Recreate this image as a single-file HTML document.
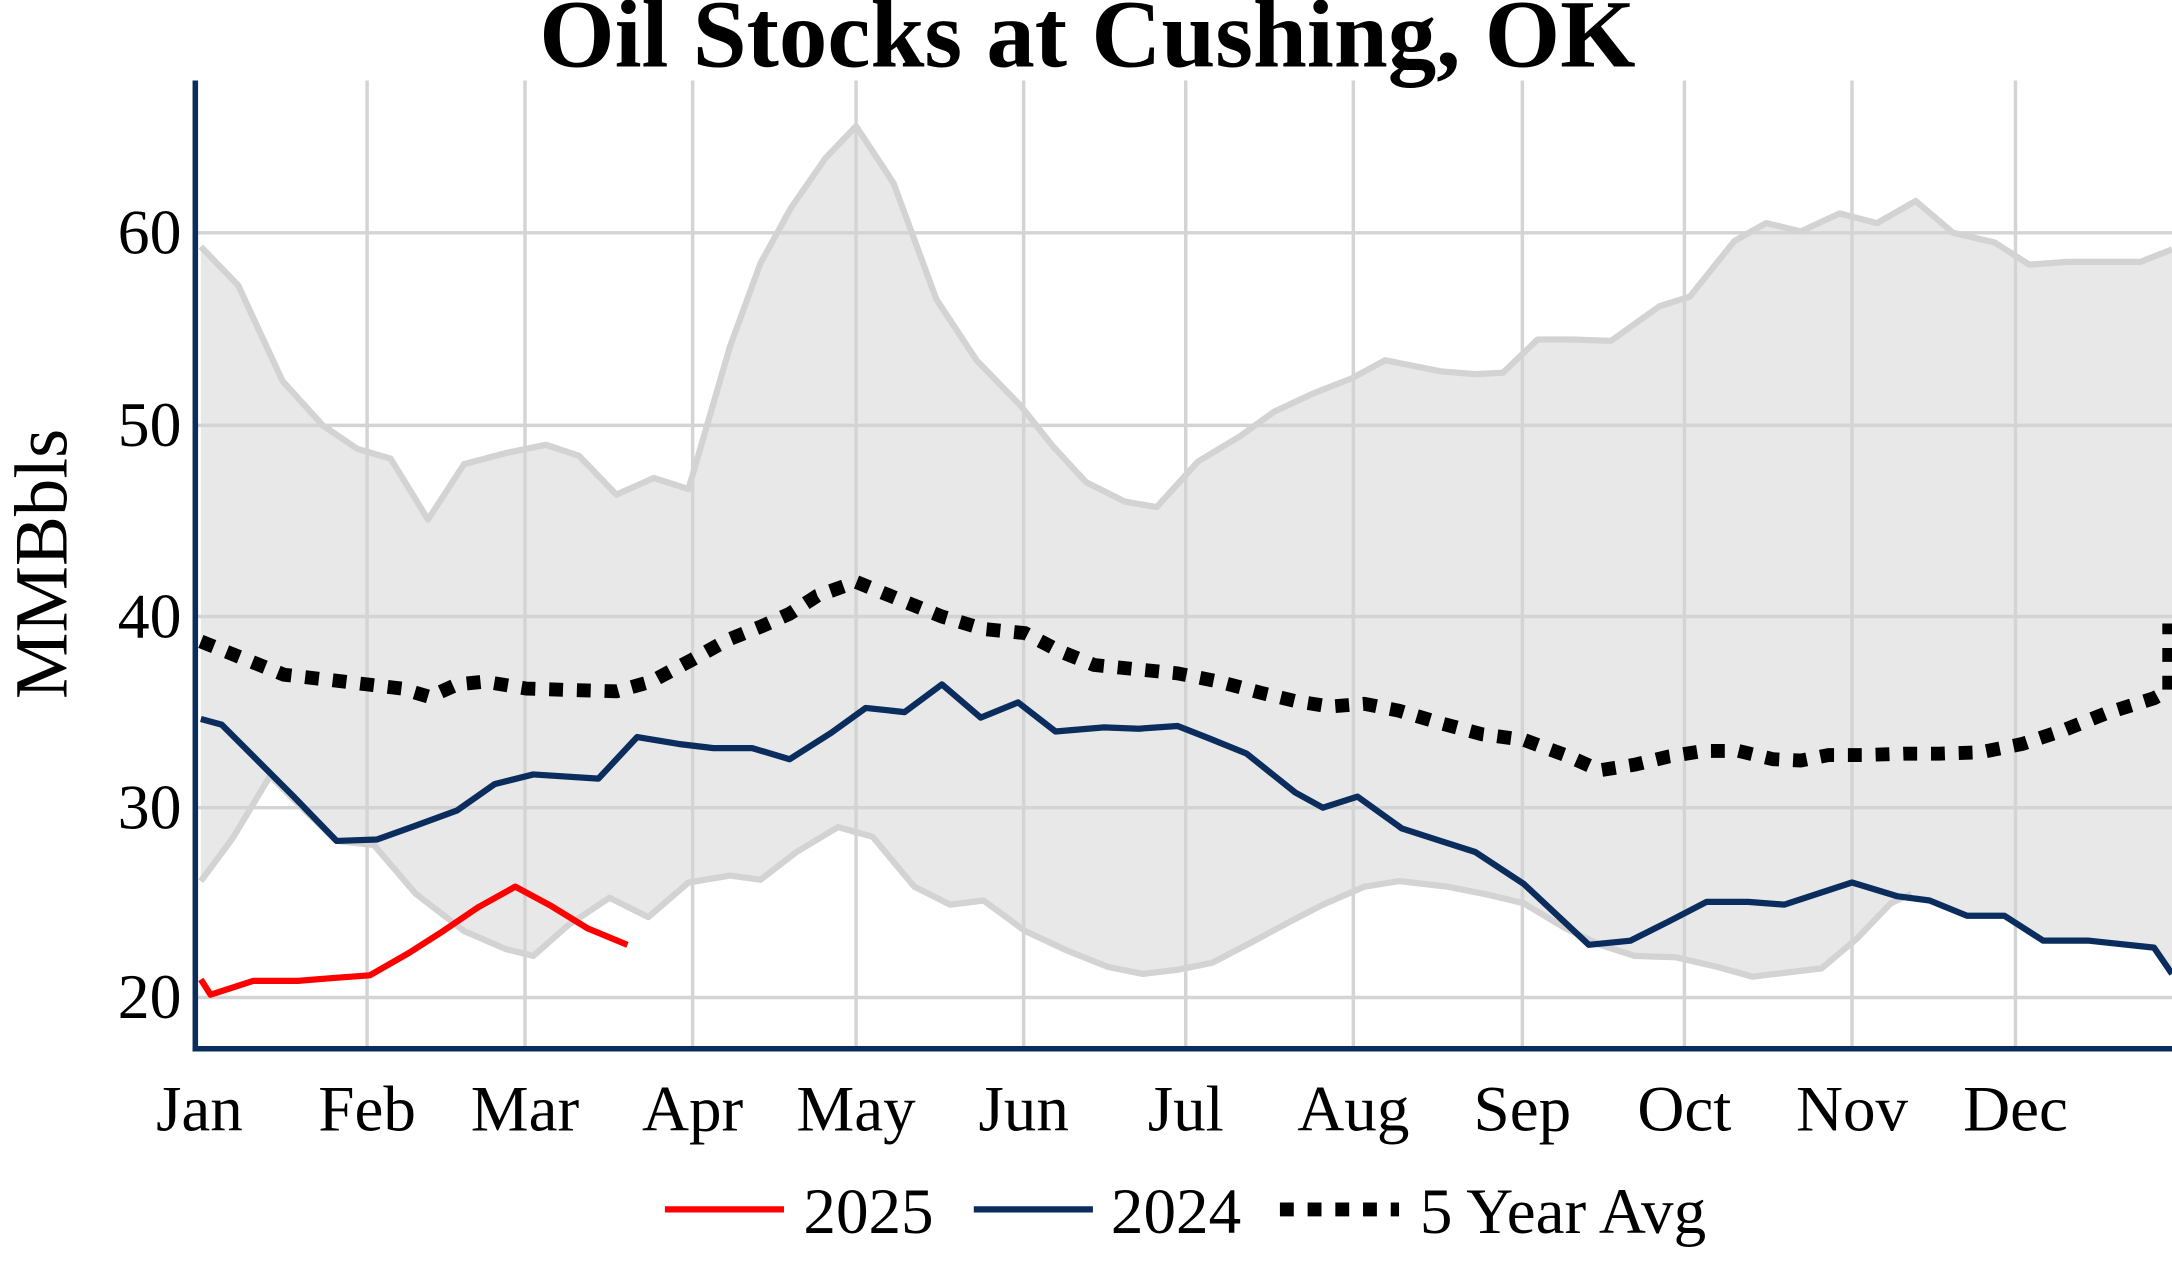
<!DOCTYPE html>
<html><head><meta charset="utf-8"><style>
html,body{margin:0;padding:0;background:#fff;}
svg{display:block;}
text{font-family:"Liberation Serif",serif;}
</style></head><body>
<svg width="2172" height="1276" viewBox="0 0 1568 921" xmlns="http://www.w3.org/2000/svg">
<defs><clipPath id="c"><rect x="141" y="40" width="1427" height="717"/></clipPath></defs>
<rect width="1568" height="921" fill="#fff"/>
<g clip-path="url(#c)">
<polygon fill="#e8e8e8" points="145,178 172,206 204,275 233,307 258,324 282,331 309,375 335,335 365,327 394,321 418,329 445,357 472,345 497,353 527,250 549,190 571,150 596,114 618,91 645,132 676,216 705,260 737,293 760,322 784,348 812,362 835,366 865,333 895,315 920,297 948,284 976,273 1000,260 1040,268 1065,270 1085,269 1110,245 1135,245 1163,246 1198,221 1220,214 1252,174 1275,161 1300,167 1328,154 1355,161 1383,145 1410,168 1440,175 1465,191 1492,189 1520,189 1545,189 1568,180 1568,703 1555,684 1508,679 1475,679 1447,661 1420,661 1395,652 1380,645 1365,652 1340,678 1315,699 1290,702 1265,705 1240,698 1210,691 1180,690 1155,682 1130,670 1100,652 1075,646 1045,640 1010,636 985,640 955,653 930,666 900,682 875,695 850,700 825,703 800,698 770,686 740,672 710,650 686,653 660,640 630,604 605,597 575,615 549,635 527,632 497,637 468,662 440,648 410,668 385,690 365,685 335,672 300,645 270,610 243,607 220,585 195,560 168,605 145,636"/>
<g stroke="#d4d4d4" stroke-width="2.5" fill="none">
<line x1="141" y1="168" x2="1568" y2="168"/><line x1="141" y1="307" x2="1568" y2="307"/><line x1="141" y1="445" x2="1568" y2="445"/><line x1="141" y1="583" x2="1568" y2="583"/><line x1="141" y1="720" x2="1568" y2="720"/>
<line x1="265" y1="58" x2="265" y2="757"/><line x1="379" y1="58" x2="379" y2="757"/><line x1="500" y1="58" x2="500" y2="757"/><line x1="618" y1="58" x2="618" y2="757"/><line x1="739" y1="58" x2="739" y2="757"/><line x1="856" y1="58" x2="856" y2="757"/><line x1="977" y1="58" x2="977" y2="757"/><line x1="1099" y1="58" x2="1099" y2="757"/><line x1="1216" y1="58" x2="1216" y2="757"/><line x1="1337" y1="58" x2="1337" y2="757"/><line x1="1455" y1="58" x2="1455" y2="757"/>
</g>
<g stroke="#d3d3d3" stroke-width="4.5" fill="none" stroke-linejoin="round">
<polyline points="145,178 172,206 204,275 233,307 258,324 282,331 309,375 335,335 365,327 394,321 418,329 445,357 472,345 497,353 527,250 549,190 571,150 596,114 618,91 645,132 676,216 705,260 737,293 760,322 784,348 812,362 835,366 865,333 895,315 920,297 948,284 976,273 1000,260 1040,268 1065,270 1085,269 1110,245 1135,245 1163,246 1198,221 1220,214 1252,174 1275,161 1300,167 1328,154 1355,161 1383,145 1410,168 1440,175 1465,191 1492,189 1520,189 1545,189 1568,180"/>
<polyline points="145,636 168,605 195,560 220,585 243,607 270,610 300,645 335,672 365,685 385,690 410,668 440,648 468,662 497,637 527,632 549,635 575,615 605,597 630,604 660,640 686,653 710,650 740,672 770,686 800,698 825,703 850,700 875,695 900,682 930,666 955,653 985,640 1010,636 1045,640 1075,646 1100,652 1130,670 1155,682 1180,690 1210,691 1240,698 1265,705 1290,702 1315,699 1340,678 1365,652 1380,645"/>
</g>
<polyline fill="none" stroke="#000" stroke-width="10" stroke-dasharray="10,10" points="145,463 175,475 205,487 240,491 265,494 290,497 310,503 330,494 350,492 380,497 410,498 445,499 470,492 500,476 525,462 550,452 570,443 590,430 618,420 650,433 680,445 710,454 740,457 765,470 790,480 820,483 850,486 880,492 910,500 935,506 960,510 985,508 1010,513 1040,522 1070,530 1100,534 1130,545 1155,556 1180,552 1205,546 1230,542 1255,542 1280,548 1300,549 1320,545 1345,545 1375,544 1400,544 1430,543 1460,537 1490,527 1520,515 1555,504 1566,498 1566,450"/>
<polyline fill="none" stroke="#0a2d5e" stroke-width="4.5" stroke-linejoin="round" points="145,519 160,523 185,548 212,575 243,607 272,606 300,596 330,585 357,566 385,559 432,562 460,532 490,537 515,540 543,540 570,548 600,529 625,511 653,514 680,494 708,518 735,507 762,528 797,525 822,526 850,524 873,533 900,544 935,572 955,583 980,575 1012,598 1040,607 1065,615 1100,638 1147,682 1177,679 1205,665 1232,651 1262,651 1288,653 1337,637 1370,647 1393,650 1420,661 1447,661 1475,679 1508,679 1555,684 1568,703"/>
<polyline fill="none" stroke="#ff0000" stroke-width="4.5" stroke-linejoin="round" points="145,707 152,718 183,708 215,708 240,706 267,704 295,688 320,672 345,655 372,640 398,654 424,670 453,682"/>
</g>
<line x1="141" y1="58" x2="141" y2="759" stroke="#0a2d5e" stroke-width="4"/>
<line x1="139" y1="757" x2="1568" y2="757" stroke="#0a2d5e" stroke-width="4"/>
<g font-size="46" text-anchor="end" fill="#000">
<text x="131" y="183">60</text><text x="131" y="322">50</text><text x="131" y="460">40</text><text x="131" y="598">30</text><text x="131" y="735">20</text>
</g>
<g font-size="47" text-anchor="middle" fill="#000">
<text x="144" y="816">Jan</text><text x="265" y="816">Feb</text><text x="379" y="816">Mar</text><text x="500" y="816">Apr</text><text x="618" y="816">May</text><text x="739" y="816">Jun</text><text x="856" y="816">Jul</text><text x="977" y="816">Aug</text><text x="1099" y="816">Sep</text><text x="1216" y="816">Oct</text><text x="1337" y="816">Nov</text><text x="1455" y="816">Dec</text>
</g>
<text x="785" y="48" font-size="70" font-weight="bold" text-anchor="middle">Oil Stocks at Cushing, OK</text>
<text transform="translate(48,407) rotate(-90)" font-size="54" text-anchor="middle">MMBbls</text>
<line x1="480" y1="873" x2="566" y2="873" stroke="#ff0000" stroke-width="4.5"/>
<text x="580" y="890" font-size="47">2025</text>
<line x1="703" y1="873" x2="789" y2="873" stroke="#0a2d5e" stroke-width="4.5"/>
<text x="802" y="890" font-size="47">2024</text>
<line x1="924" y1="873" x2="1010" y2="873" stroke="#000" stroke-width="10" stroke-dasharray="10,10"/>
<text x="1025" y="890" font-size="47">5 Year Avg</text>
</svg>
</body></html>
